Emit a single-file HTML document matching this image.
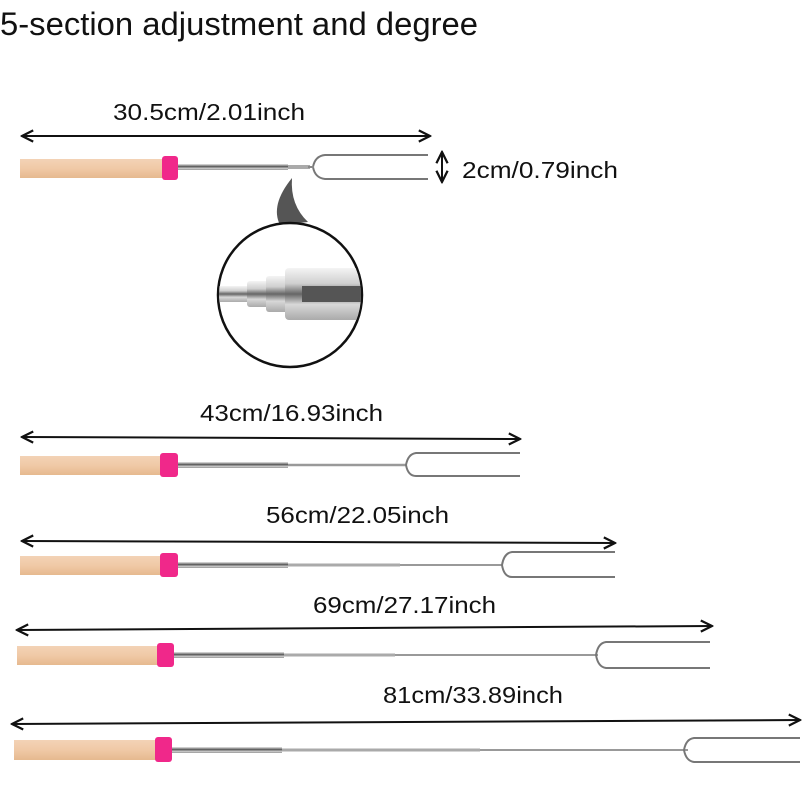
<!DOCTYPE html>
<html><head><meta charset="utf-8"><style>
html,body{margin:0;padding:0;background:#fff;}
svg{display:block;}
text{font-family:"Liberation Sans","DejaVu Sans",sans-serif;fill:#111;}
</style></head><body>
<svg width="810" height="810" viewBox="0 0 810 810" xmlns="http://www.w3.org/2000/svg">
<defs>
<linearGradient id="wood" x1="0" y1="0" x2="0" y2="1">
<stop offset="0" stop-color="#f3d3b6"/><stop offset="0.5" stop-color="#f0c9a6"/><stop offset="1" stop-color="#e6b98f"/>
</linearGradient>
<linearGradient id="steel" x1="0" y1="0" x2="0" y2="1">
<stop offset="0" stop-color="#e8e8e8"/><stop offset="0.45" stop-color="#555"/><stop offset="0.7" stop-color="#ccc"/><stop offset="1" stop-color="#999"/>
</linearGradient>
<linearGradient id="zoomsteel" x1="0" y1="0" x2="0" y2="1">
<stop offset="0" stop-color="#f4f4f4"/><stop offset="0.3" stop-color="#cfcfcf"/><stop offset="0.5" stop-color="#666"/><stop offset="0.7" stop-color="#d8d8d8"/><stop offset="1" stop-color="#aaa"/>
</linearGradient>
<marker id="ah" viewBox="0 0 10 10" refX="9" refY="5" markerWidth="7" markerHeight="7" orient="auto-start-reverse">
<path d="M1,1 L9,5 L1,9" fill="none" stroke="#111" stroke-width="1.6"/>
</marker>
</defs>

<text x="0" y="35" font-size="32" textLength="478" lengthAdjust="spacingAndGlyphs">5-section adjustment and degree</text>

<!-- Fork 1 -->
<text x="113" y="120" font-size="23" textLength="192" lengthAdjust="spacingAndGlyphs">30.5cm/2.01inch</text>
<line x1="22" y1="136" x2="430" y2="136" stroke="#111" stroke-width="2" marker-start="url(#ah)" marker-end="url(#ah)"/>
<rect x="20" y="159" width="143" height="19" fill="url(#wood)"/>
<rect x="162" y="156" width="16" height="24" rx="3" fill="#f0288a"/>
<rect x="178" y="164" width="110" height="6" fill="url(#steel)"/>
<rect x="288" y="165" width="22" height="4" fill="#aaa"/>
<path d="M428,155 L325,155 Q315,156 313,167 Q315,178 325,179 L428,179" fill="none" stroke="#777" stroke-width="2"/>
<line x1="308" y1="167" x2="314" y2="167" stroke="#888" stroke-width="2"/>
<line x1="442" y1="152" x2="442" y2="182" stroke="#111" stroke-width="2" marker-start="url(#ah)" marker-end="url(#ah)"/>
<text x="462" y="178" font-size="23" textLength="156" lengthAdjust="spacingAndGlyphs">2cm/0.79inch</text>

<!-- callout -->
<path d="M292,178 Q270,205 280,225 L308,222 Q290,205 292,178 Z" fill="#555"/>
<circle cx="290" cy="295" r="72" fill="#fff" stroke="#111" stroke-width="2.5"/>
<clipPath id="cc"><circle cx="290" cy="295" r="71"/></clipPath>
<g clip-path="url(#cc)">
<rect x="215" y="286" width="40" height="16" fill="url(#zoomsteel)"/>
<rect x="247" y="281" width="22" height="26" rx="3" fill="url(#zoomsteel)"/>
<rect x="266" y="276" width="22" height="36" rx="3" fill="url(#zoomsteel)"/>
<rect x="285" y="268" width="80" height="52" rx="4" fill="url(#zoomsteel)"/>
<rect x="302" y="286" width="65" height="16" fill="#555"/>
</g>

<!-- Fork 2 -->
<text x="200" y="421" font-size="23" textLength="183" lengthAdjust="spacingAndGlyphs">43cm/16.93inch</text>
<line x1="22" y1="437" x2="520" y2="439" stroke="#111" stroke-width="2" marker-start="url(#ah)" marker-end="url(#ah)"/>
<rect x="20" y="456" width="142" height="19" fill="url(#wood)"/>
<rect x="160" y="453" width="18" height="24" rx="3" fill="#f0288a"/>
<rect x="178" y="462" width="110" height="6" fill="url(#steel)"/>
<line x1="288" y1="465" x2="407" y2="465" stroke="#999" stroke-width="2.5"/>
<path d="M520,453 L416,453 Q408,454 406,465 Q408,476 416,476 L520,476" fill="none" stroke="#777" stroke-width="2"/>

<!-- Fork 3 -->
<text x="266" y="523" font-size="23" textLength="183" lengthAdjust="spacingAndGlyphs">56cm/22.05inch</text>
<line x1="22" y1="541" x2="615" y2="543" stroke="#111" stroke-width="2" marker-start="url(#ah)" marker-end="url(#ah)"/>
<rect x="20" y="556" width="142" height="19" fill="url(#wood)"/>
<rect x="160" y="553" width="18" height="24" rx="3" fill="#f0288a"/>
<rect x="178" y="562" width="110" height="6" fill="url(#steel)"/>
<line x1="288" y1="565" x2="400" y2="565" stroke="#aaa" stroke-width="3"/>
<line x1="400" y1="565" x2="503" y2="565" stroke="#999" stroke-width="2"/>
<path d="M615,552 L512,552 Q504,553 502,565 Q504,577 512,577 L615,577" fill="none" stroke="#777" stroke-width="2"/>

<!-- Fork 4 -->
<text x="313" y="613" font-size="23" textLength="183" lengthAdjust="spacingAndGlyphs">69cm/27.17inch</text>
<line x1="17" y1="630" x2="712" y2="626" stroke="#111" stroke-width="2" marker-start="url(#ah)" marker-end="url(#ah)"/>
<rect x="17" y="646" width="142" height="19" fill="url(#wood)"/>
<rect x="157" y="643" width="17" height="24" rx="3" fill="#f0288a"/>
<rect x="174" y="652" width="110" height="6" fill="url(#steel)"/>
<line x1="284" y1="655" x2="395" y2="655" stroke="#aaa" stroke-width="3"/>
<line x1="395" y1="655" x2="598" y2="655" stroke="#999" stroke-width="2"/>
<path d="M710,642 L606,642 Q598,643 596,655 Q598,667 606,668 L710,668" fill="none" stroke="#777" stroke-width="2"/>

<!-- Fork 5 -->
<text x="383" y="703" font-size="23" textLength="180" lengthAdjust="spacingAndGlyphs">81cm/33.89inch</text>
<line x1="12" y1="724" x2="800" y2="720" stroke="#111" stroke-width="2" marker-start="url(#ah)" marker-end="url(#ah)"/>
<rect x="14" y="740" width="143" height="20" fill="url(#wood)"/>
<rect x="155" y="737" width="17" height="25" rx="3" fill="#f0288a"/>
<rect x="172" y="747" width="110" height="6" fill="url(#steel)"/>
<line x1="282" y1="750" x2="480" y2="750" stroke="#aaa" stroke-width="3"/>
<line x1="480" y1="750" x2="688" y2="750" stroke="#999" stroke-width="2"/>
<path d="M800,738 L694,738 Q686,739 684,750 Q686,761 694,762 L800,762" fill="none" stroke="#777" stroke-width="2"/>
</svg>
</body></html>
